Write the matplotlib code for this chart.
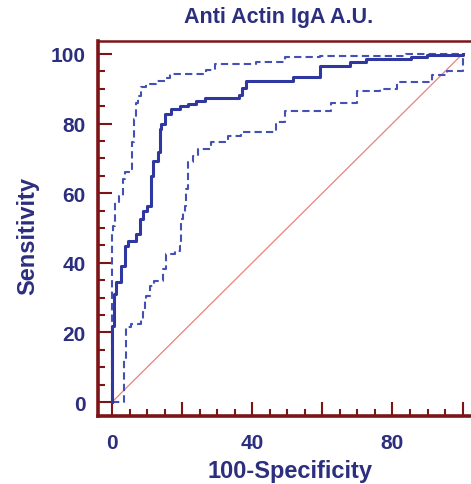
import matplotlib
matplotlib.use("Agg")
import matplotlib.pyplot as plt
from matplotlib.ticker import MultipleLocator, FuncFormatter

plt.rcParams['font.family'] = ['Liberation Sans', 'DejaVu Sans']

NAVY = '#2c2e7e'
MAROON = '#7d1416'
CURVE = '#2f38a0'
CI = '#4450b4'
DIAG = '#e8837b'

# ROC curve (riser tops, drawn as steps-post)
roc_x = [0, 0, 0.5, 1.2, 2.6, 3.6, 4.5, 6.8, 7.9, 8.7, 10.1, 11.2, 11.6, 13.0, 13.6,
         14.1, 15.0, 16.9, 19.3, 21.6, 24.0, 26.4, 36.3, 37.2, 38.1, 51.6, 59.3,
         67.9, 72.4, 85.3, 89.9, 100]
roc_y = [0, 21.8, 31.0, 34.4, 39.2, 44.9, 46.4, 48.3, 52.6, 55.0, 56.4, 65.0, 69.3, 71.8, 78.4,
         79.9, 82.8, 84.2, 85.1, 85.6, 86.6, 87.3, 88.3, 90.3, 92.2, 93.3, 96.4,
         97.6, 98.6, 99.2, 99.8, 100]

# upper 95% confidence bound
upper_x = [0, 0, 0.4, 0.9, 2.1, 3.0, 3.6, 5.0, 5.6, 6.4, 6.9, 7.4, 8.3, 9.8, 12.6,
           15.0, 16.4, 26.9, 29.3, 41.2, 49.3, 59.3, 84.0, 100]
upper_y = [0, 48.0, 50.7, 57.4, 59.3, 64.1, 66.0, 67.0, 74.6, 81.3, 86.0, 88.0, 90.4, 91.4, 92.3,
           93.0, 94.2, 95.3, 97.1, 97.8, 99.0, 99.5, 100, 100]

# lower 95% confidence bound
lower_x = [0, 3.4, 4.0, 5.5, 8.3, 8.8, 9.3, 9.8, 10.7, 12.1, 14.5, 15.5, 17.9, 19.3,
           19.8, 20.2, 20.7, 21.2, 21.7, 23.1, 24.5, 28.3, 33.1, 36.9, 46.9, 49.3,
           62.6, 69.8, 76.4, 81.2, 91.2, 95.5, 100, 100]
lower_y = [0, 12.4, 21.7, 22.4, 23.9, 26.7, 29.6, 30.5, 33.4, 34.9, 38.2, 42.5, 43.5, 44.9,
           52.6, 54.5, 56.4, 61.2, 68.9, 70.8, 72.7, 74.6, 76.5, 77.7, 80.4, 83.7,
           85.8, 89.4, 89.9, 92.0, 93.8, 95.2, 95.2, 100]

diag = [0, 100]

fig = plt.figure(figsize=(4.71, 4.85), dpi=100)
ax = fig.add_axes([98/471, 68/485, 373/471, 375/485])

ax.plot(diag, diag, color=DIAG, lw=0.9, zorder=1)
ax.plot(upper_x, upper_y, drawstyle='steps-post', color=CI, lw=1.5,
        linestyle=(0, (3.5, 2)), zorder=2)
ax.plot(lower_x, lower_y, drawstyle='steps-post', color=CI, lw=1.5,
        linestyle=(0, (3.5, 2)), zorder=2)
ax.plot(roc_x, roc_y, drawstyle='steps-post', color=CURVE, lw=2.2, zorder=3)

ax.set_xlim(-4, 102.4)
ax.set_ylim(-4, 103.7)

ax.spines['right'].set_visible(False)
ax.spines['left'].set_linewidth(2.6)
ax.spines['bottom'].set_linewidth(2.6)
ax.spines['top'].set_linewidth(1.8)
for s in ['left', 'bottom', 'top']:
    ax.spines[s].set_color(MAROON)

ax.xaxis.set_major_locator(MultipleLocator(20))
ax.xaxis.set_minor_locator(MultipleLocator(5))
ax.yaxis.set_major_locator(MultipleLocator(20))
ax.yaxis.set_minor_locator(MultipleLocator(5))
ax.xaxis.set_major_formatter(FuncFormatter(
    lambda v, p: '%d' % v if int(round(v)) in (0, 40, 80) else ''))
ax.yaxis.set_major_formatter(FuncFormatter(lambda v, p: '%d' % v))

ax.tick_params(which='major', direction='in', length=10, width=1.5, color=MAROON,
               labelsize=15, labelcolor=NAVY)
ax.tick_params(which='minor', direction='in', length=5, width=1.5, color=MAROON)
ax.tick_params(axis='x', which='major', pad=12)
ax.tick_params(axis='y', which='major', pad=9)
ax.tick_params(top=False, right=False, which='both')
for lab in ax.get_xticklabels() + ax.get_yticklabels():
    lab.set_fontweight('bold')

ax.set_xlabel('100-Specificity', fontsize=17, fontweight='bold', color=NAVY,
              va='center')
ax.xaxis.set_label_coords((290 - 98) / 373, -(472 - 417) / 375)
ax.set_ylabel('Sensitivity', fontsize=17, fontweight='bold', color=NAVY,
              va='center')
ax.yaxis.set_label_coords(-(98 - 28) / 373, (417 - 236) / 375)
fig.text(279/471, 1 - 18/485, 'Anti Actin IgA A.U.', ha='center', va='center',
         fontsize=15.5, fontweight='bold', color=NAVY)

fig.savefig('out.png', dpi=100)
